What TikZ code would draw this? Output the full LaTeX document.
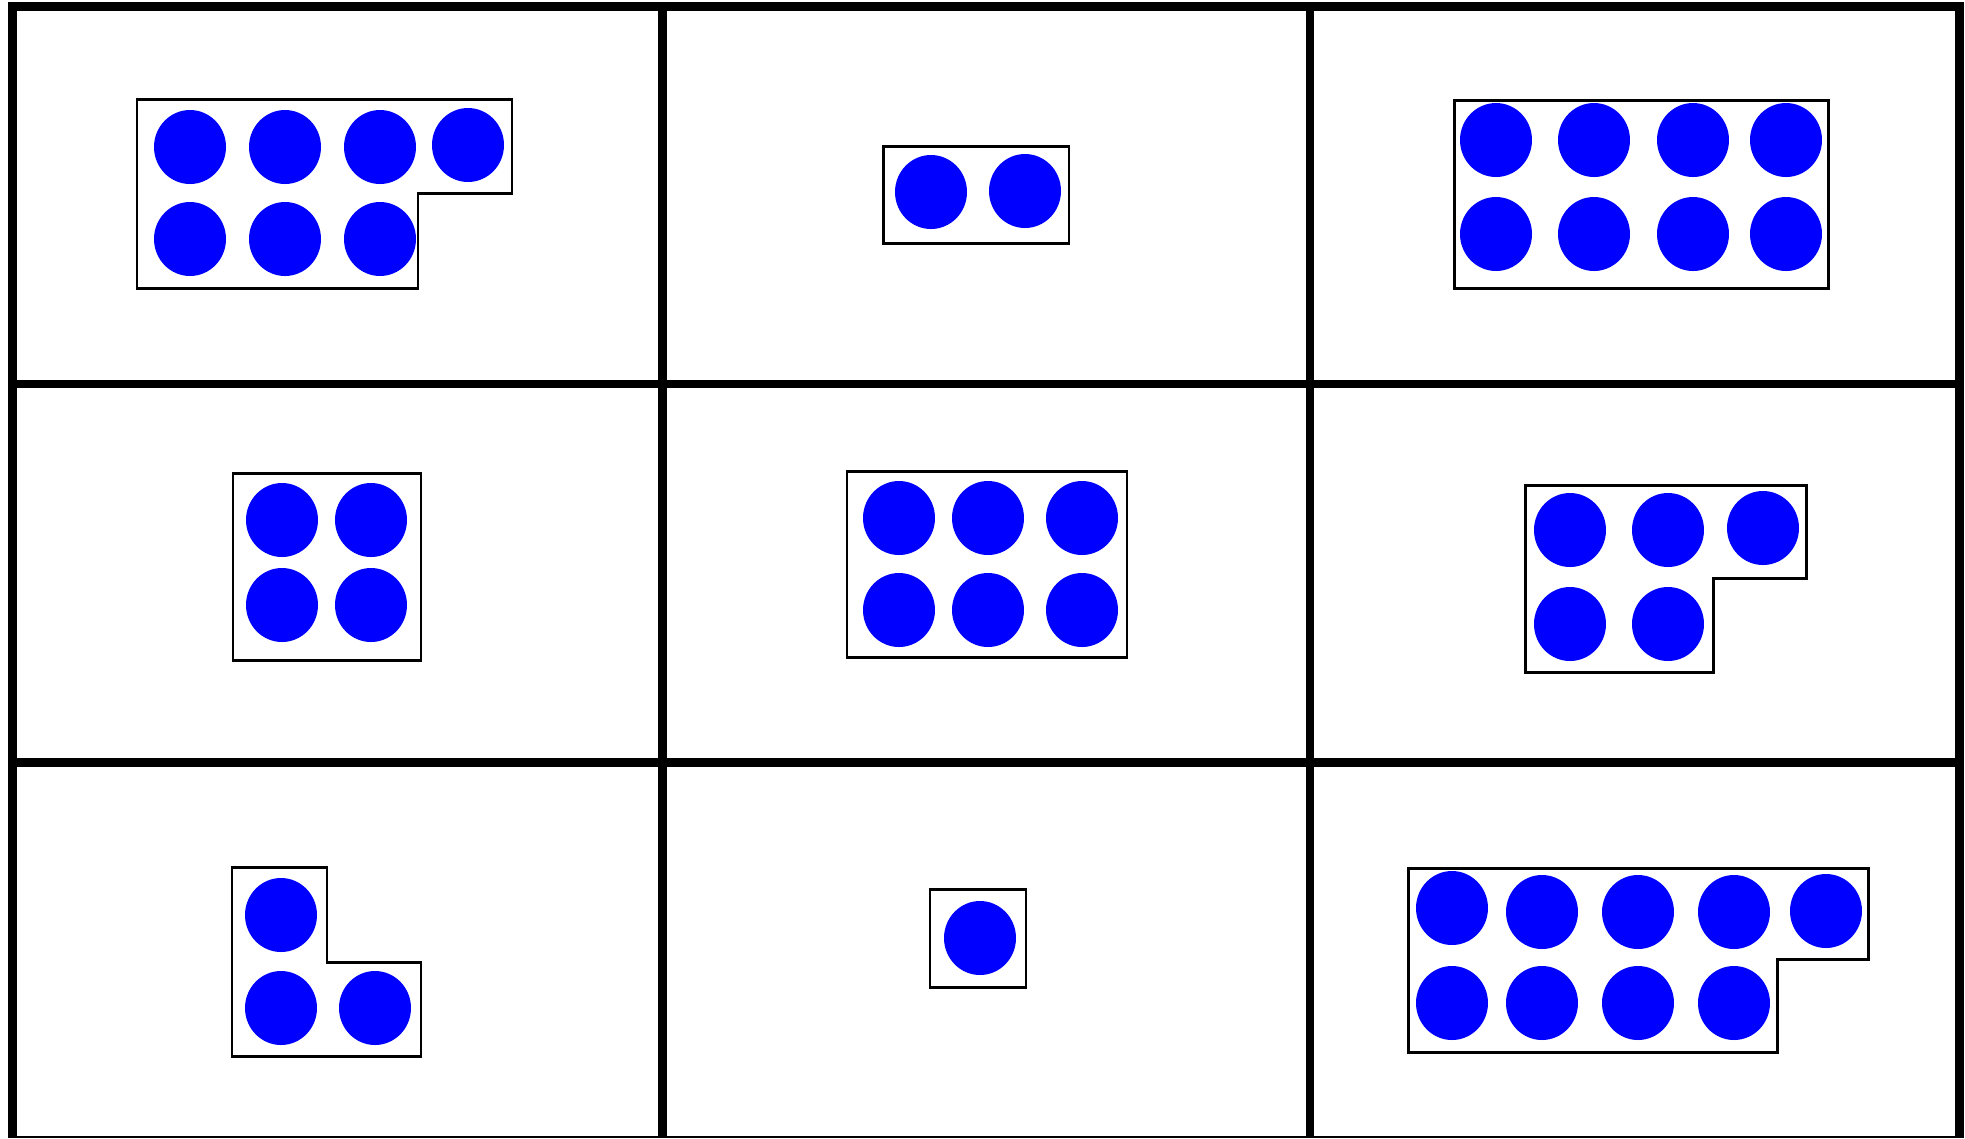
\documentclass[tikz,border=0pt]{standalone}
\usepackage{tikz}

\begin{document}
\begin{tikzpicture}[x=0.01cm, y=-0.01cm,
    chip/.style={fill=blue},
    rim/.style={draw=black, line width=0.85pt},
    ruling/.style={draw=black, line width=2.55pt}]
  \useasboundingbox (0, 0) rectangle (1965, 1138);
  % the 3 x 3 cards
  \foreach \y in {6.5, 384, 762}
    \draw[ruling] (8, \y) -- (1964, \y);
  \foreach \x in {12.5, 662.5, 1310, 1959.5}
    \draw[ruling] (\x, 2) -- (\x, 1138);
  \draw[black, line width=0.4pt] (12, 1137) -- (1958, 1137);
  % top row: 7, 2, 8
  \draw[rim] (137, 99) -- (512, 99) -- (512, 193) -- (418, 193) -- (418, 288) -- (137, 288) -- cycle;
  \foreach \x/\y in {190/147, 285/147, 380/147, 468/145, 190/239, 285/239, 380/239}
    \fill[chip] (\x, \y) ellipse [x radius=36, y radius=37];
  \draw[rim] (883.5, 146.5) rectangle (1069, 243);
  \foreach \x/\y in {931/192, 1025/191}
    \fill[chip] (\x, \y) ellipse [x radius=36, y radius=37];
  \draw[rim] (1454, 100) rectangle (1828, 288);
  \foreach \x in {1496, 1594, 1693, 1786}
    \foreach \y in {140, 234}
      \fill[chip] (\x, \y) ellipse [x radius=36, y radius=37];
  % middle row: 4, 6, 5
  \draw[rim] (233, 473) rectangle (421, 660);
  \foreach \x in {282, 371}
    \foreach \y in {520, 605}
      \fill[chip] (\x, \y) ellipse [x radius=36, y radius=37];
  \draw[rim] (847, 471) rectangle (1127, 657);
  \foreach \x in {899, 988, 1082}
    \foreach \y in {518, 610}
      \fill[chip] (\x, \y) ellipse [x radius=36, y radius=37];
  \draw[rim] (1525, 485) -- (1806, 485) -- (1806, 578) -- (1713, 578) -- (1713, 672) -- (1525, 672) -- cycle;
  \foreach \x/\y in {1570/530, 1668/530, 1763/528, 1570/624, 1668/624}
    \fill[chip] (\x, \y) ellipse [x radius=36, y radius=37];
  % bottom row: 3, 1, 9
  \draw[rim] (232, 867) -- (327, 867) -- (327, 962) -- (421, 962) -- (421, 1056) -- (232, 1056) -- cycle;
  \foreach \x/\y in {281/915, 281/1008, 375/1008}
    \fill[chip] (\x, \y) ellipse [x radius=36, y radius=37];
  \draw[rim] (930, 889) rectangle (1026, 987);
  \fill[chip] (980, 938) ellipse [x radius=36, y radius=37];
  \draw[rim] (1408, 868) -- (1868, 868) -- (1868, 959) -- (1777, 959) -- (1777, 1052) -- (1408, 1052) -- cycle;
  \foreach \x/\y in {1452/908, 1542/912, 1638/912, 1734/912, 1826/911, 1452/1003, 1542/1003, 1638/1003, 1734/1003}
    \fill[chip] (\x, \y) ellipse [x radius=36, y radius=37];
\end{tikzpicture}
\end{document}
